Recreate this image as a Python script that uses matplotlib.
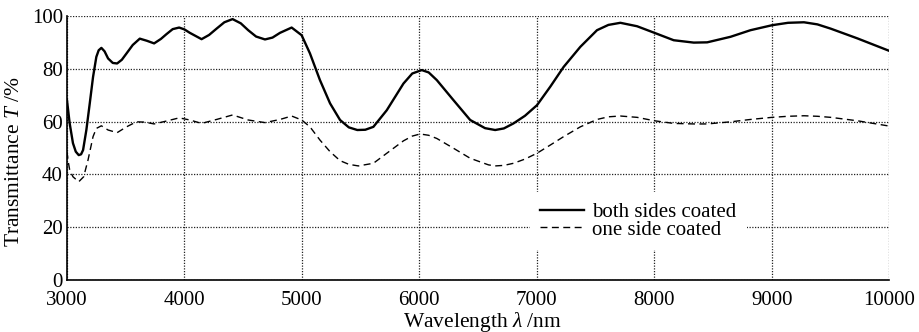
import numpy as np
import matplotlib.pyplot as plt

# Data
wl_both = [3000, 3012, 3023, 3051, 3075, 3100, 3120, 3137, 3165, 3194, 3222, 3250,
           3270, 3293, 3320, 3350, 3390, 3427, 3467, 3507, 3560, 3620, 3680, 3742,
           3800, 3847, 3900, 3955, 4000, 4046, 4146, 4210, 4274, 4340, 4410, 4480,
           4543, 4610, 4686, 4750, 4814, 4913, 4998, 5069, 5154, 5240, 5325, 5400,
           5472, 5540, 5609, 5723, 5865, 5940, 6021, 6080, 6149, 6291, 6433, 6560,
           6646, 6720, 6802, 6900, 7002, 7115, 7229, 7371, 7513, 7610, 7712, 7854,
           8002, 8166, 8337, 8451, 8650, 8820, 9005, 9140, 9275, 9390, 9502, 9730,
           10000]
t_both = [68.1, 63.5, 59.3, 51.8, 48.6, 47.3, 47.6, 49.2, 56.8, 66.9, 76.9, 84.5,
          87.0, 87.9, 86.6, 83.9, 82.2, 82.0, 83.4, 85.8, 89.0, 91.4, 90.6, 89.6,
          91.3, 93.1, 95.0, 95.6, 94.9, 93.6, 91.2, 92.8, 95.2, 97.6, 98.8, 97.2,
          94.6, 92.2, 91.1, 91.8, 93.6, 95.6, 92.7, 85.8, 75.7, 66.9, 60.6, 57.8,
          56.8, 56.9, 58.0, 64.3, 74.4, 78.2, 79.5, 78.6, 75.7, 68.1, 60.6, 57.5,
          56.8, 57.4, 59.3, 62.2, 66.2, 73.2, 80.7, 88.3, 94.6, 96.6, 97.4, 96.1,
          93.6, 90.8, 89.9, 90.0, 92.1, 94.6, 96.5, 97.4, 97.6, 96.8, 95.2, 91.5,
          86.8]

wl_one = [3000, 3012, 3023, 3051, 3100, 3142, 3179, 3222, 3250, 3293, 3350, 3427,
          3507, 3591, 3660, 3742, 3847, 3955, 4046, 4146, 4274, 4410, 4543, 4686,
          4814, 4913, 4998, 5069, 5154, 5240, 5325, 5400, 5481, 5609, 5723, 5865,
          5940, 6007, 6080, 6149, 6291, 6433, 6589, 6646, 6720, 6802, 6900, 7002,
          7115, 7229, 7371, 7513, 7610, 7712, 7854, 8002, 8166, 8337, 8451, 8650,
          8820, 9005, 9140, 9275, 9390, 9502, 9730, 10000]
t_one = [48.6, 44.5, 41.7, 39.1, 37.2, 39.1, 45.4, 54.3, 57.4, 58.4, 56.8, 55.8,
         58.0, 59.9, 59.8, 59.1, 60.2, 61.4, 60.6, 59.3, 60.8, 62.5, 60.6, 59.6,
         60.8, 62.1, 60.6, 58.0, 53.0, 48.6, 45.2, 43.8, 43.2, 44.2, 48.0, 52.7,
         54.5, 55.3, 54.8, 53.6, 49.9, 46.1, 43.6, 43.2, 43.4, 44.2, 45.8, 48.0,
         51.1, 54.3, 58.0, 60.8, 61.8, 62.1, 61.6, 60.3, 59.3, 59.1, 59.1, 59.9,
         60.8, 61.6, 62.0, 62.2, 62.0, 61.6, 60.3, 58.3]

xticks = [3000, 4000, 5000, 6000, 7000, 8000, 9000, 10000]
yticks = [0, 20, 40, 60, 80, 100]

plt.rcParams['font.family'] = ['Liberation Serif']
plt.rcParams['mathtext.fontset'] = 'custom'
plt.rcParams['mathtext.rm'] = 'Liberation Serif'
plt.rcParams['mathtext.it'] = 'Liberation Serif:italic'

fig = plt.figure(figsize=(9.2, 3.32), dpi=100)
ax = fig.add_axes([0.0728, 0.1566, 0.8936, 0.7954])

ax.plot(wl_both, t_both, color='black', lw=1.7, label='both sides coated', zorder=3)
ax.plot(wl_one, t_one, color='black', lw=1.0, dashes=(5, 3.2), label='one side coated', zorder=3)

ax.set_xlim(3000, 10000)
ax.set_ylim(0, 100)
ax.set_xticks(xticks)
ax.set_yticks(yticks)
ax.tick_params(length=0, labelsize=15)
ax.tick_params(axis='x', pad=8)
ax.tick_params(axis='y', pad=3)
ax.grid(True, color='#222222', lw=0.9, linestyle=(0, (1, 1.2)))
ax.set_axisbelow(True)
for s in ['top', 'right']:
    ax.spines[s].set_visible(False)
for s in ['left', 'bottom']:
    ax.spines[s].set_linewidth(1.2)

ax.set_xlabel('Wavelength $\\lambda$ /nm', fontsize=15.5)
ax.set_ylabel('Transmittance $T$ /%', fontsize=15.5)
ax.xaxis.set_label_coords(0.505, -0.112)
ax.yaxis.set_label_coords(-0.052, 0.447)

leg = ax.legend(loc='upper left', bbox_to_anchor=(0.563, 0.333), borderaxespad=0,
                frameon=True, fancybox=False, edgecolor='none', facecolor='white',
                framealpha=1, fontsize=15, handlelength=2.1, handletextpad=0.4,
                labelspacing=-0.1, borderpad=0.5)
leg.set_zorder(5)

fig.savefig('out.png', dpi=100)
